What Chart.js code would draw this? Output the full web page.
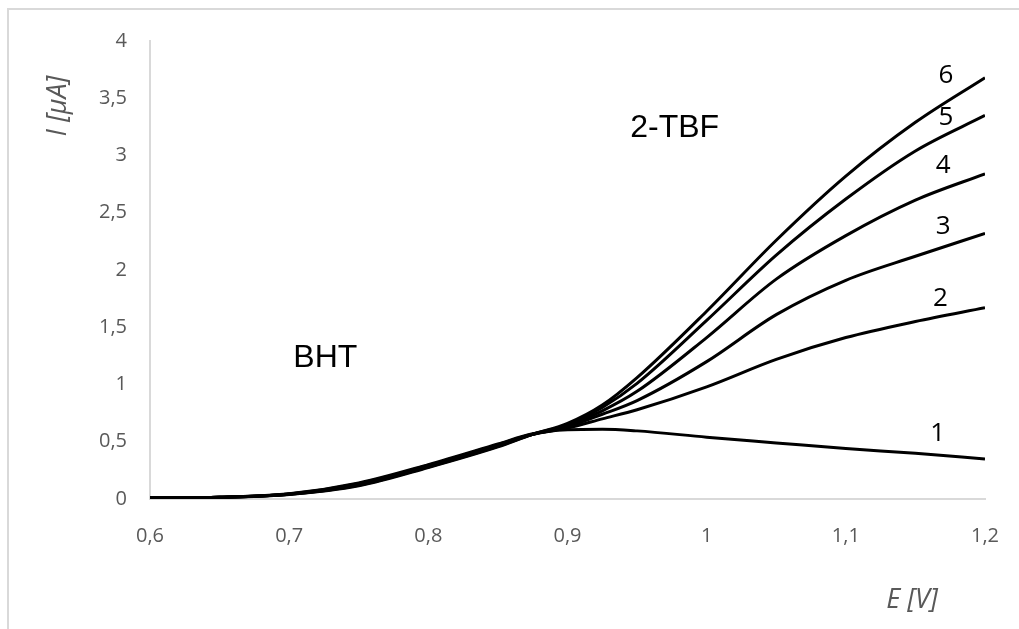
<!DOCTYPE html>
<html>
<head>
<meta charset="utf-8">
<script src="https://cdn.jsdelivr.net/npm/chart.js@4.4.1/dist/chart.umd.min.js"></script>
<style>
  html, body { margin: 0; padding: 0; background: #fff; }
  #wrap { position: relative; width: 1019px; height: 629px; }
</style>
</head>
<body>
<div id="wrap"><canvas id="chart" width="1019" height="629"></canvas></div>
<script>
/* potential E [V] shared by every curve */
const E = [0.60, 0.65, 0.70, 0.75, 0.80, 0.85, 0.875, 0.90, 0.925, 0.95, 1.00, 1.05, 1.10, 1.15, 1.20];

/* current I [uA] for curves 1..6 */
const I1 = [0.01, 0.015, 0.045, 0.14, 0.30, 0.48, 0.57, 0.605, 0.61, 0.595, 0.54, 0.49, 0.44, 0.40, 0.35];
const I2 = [0.01, 0.015, 0.044, 0.135, 0.295, 0.475, 0.565, 0.62, 0.70, 0.78, 0.98, 1.22, 1.41, 1.55, 1.67];
const I3 = [0.01, 0.015, 0.043, 0.13, 0.29, 0.47, 0.565, 0.63, 0.74, 0.86, 1.20, 1.61, 1.91, 2.12, 2.32];
const I4 = [0.01, 0.015, 0.042, 0.125, 0.285, 0.465, 0.565, 0.64, 0.77, 0.94, 1.41, 1.92, 2.30, 2.61, 2.84];
const I5 = [0.01, 0.015, 0.041, 0.12, 0.28, 0.46, 0.565, 0.65, 0.80, 1.01, 1.56, 2.13, 2.62, 3.04, 3.35];
const I6 = [0.01, 0.015, 0.04, 0.115, 0.275, 0.455, 0.565, 0.66, 0.82, 1.06, 1.64, 2.26, 2.82, 3.29, 3.68];

const curves = [I1, I2, I3, I4, I5, I6];
const curveNames = ['1', '2', '3', '4', '5', '6'];

/* where the curve numbers sit, in data units */
const numLabelE = [1.166, 1.168, 1.170, 1.170, 1.172, 1.172];
const numLabelI = [0.57, 1.75, 2.38, 2.91, 3.33, 3.70];

/* tick values */
const xTicks = [0.6, 0.7, 0.8, 0.9, 1.0, 1.1, 1.2];
const yTicks = [0, 0.5, 1, 1.5, 2, 2.5, 3, 3.5, 4];

const comma = v => String(Math.round(v * 10) / 10).replace('.', ',');

/* frame, axis titles and text labels */
const decor = {
  id: 'decor',
  beforeDraw(chart) {
    const ctx = chart.ctx;
    ctx.save();
    ctx.fillStyle = '#d9d9d9';
    ctx.fillRect(7, 8, 1012, 2);
    ctx.fillRect(7, 8, 2, 621);
    ctx.restore();
  },
  afterDraw(chart) {
    const ctx = chart.ctx;
    const xs = chart.scales.x, ys = chart.scales.y;
    ctx.save();
    ctx.textAlign = 'center';
    ctx.textBaseline = 'middle';

    // axis titles
    ctx.fillStyle = '#595959';
    ctx.font = 'italic 27px "Open Sans"';
    ctx.fillText('E [V]', 912, 600);
    ctx.translate(58, 106);
    ctx.rotate(-Math.PI / 2);
    ctx.fillText('I [\u00B5A]', 0, 0);
    ctx.setTransform(1, 0, 0, 1, 0, 0);

    // compound labels
    ctx.fillStyle = '#000';
    ctx.font = '32px "Liberation Sans"';
    ctx.fillText('BHT', xs.getPixelForValue(0.726), ys.getPixelForValue(1.23));
    ctx.fillText('2-TBF', xs.getPixelForValue(0.977), ys.getPixelForValue(3.24));

    // curve numbers
    ctx.font = '26px "Open Sans"';
    curveNames.forEach((n, i) => {
      ctx.fillText(n, xs.getPixelForValue(numLabelE[i]), ys.getPixelForValue(numLabelI[i]));
    });
    ctx.restore();
  }
};

const datasets = curves.map((c, i) => ({
  label: curveNames[i],
  data: E.map((e, k) => ({ x: e, y: c[k] })),
  borderColor: '#000',
  borderWidth: 3,
  pointRadius: 0,
  fill: false,
  cubicInterpolationMode: 'monotone'
}));

new Chart(document.getElementById('chart'), {
  type: 'line',
  data: { datasets: datasets },
  options: {
    responsive: false,
    animation: false,
    layout: { padding: { top: 41, right: 34, left: 0, bottom: 0 } },
    plugins: { legend: { display: false }, tooltip: { enabled: false } },
    scales: {
      x: {
        type: 'linear',
        min: 0.6, max: 1.2,
        afterBuildTicks: s => { s.ticks = xTicks.map(v => ({ value: v })); },
        afterFit: s => { s.height = 130; s.paddingLeft = 0; s.paddingRight = 0; },
        grid: { display: false, drawTicks: false },
        border: { display: true, color: '#d9d9d9', width: 2 },
        ticks: { callback: comma, color: '#595959', font: { family: 'Open Sans', size: 20 }, padding: 25, maxRotation: 0 }
      },
      y: {
        min: 0, max: 4,
        afterBuildTicks: s => { s.ticks = yTicks.map(v => ({ value: v })); },
        afterFit: s => { s.width = 150; s.paddingTop = 0; s.paddingBottom = 0; },
        grid: { display: false, drawTicks: false },
        border: { display: true, color: '#d9d9d9', width: 2 },
        ticks: { callback: comma, color: '#595959', font: { family: 'Open Sans', size: 20 }, padding: 23 }
      }
    }
  },
  plugins: [decor]
});
</script>
</body>
</html>
